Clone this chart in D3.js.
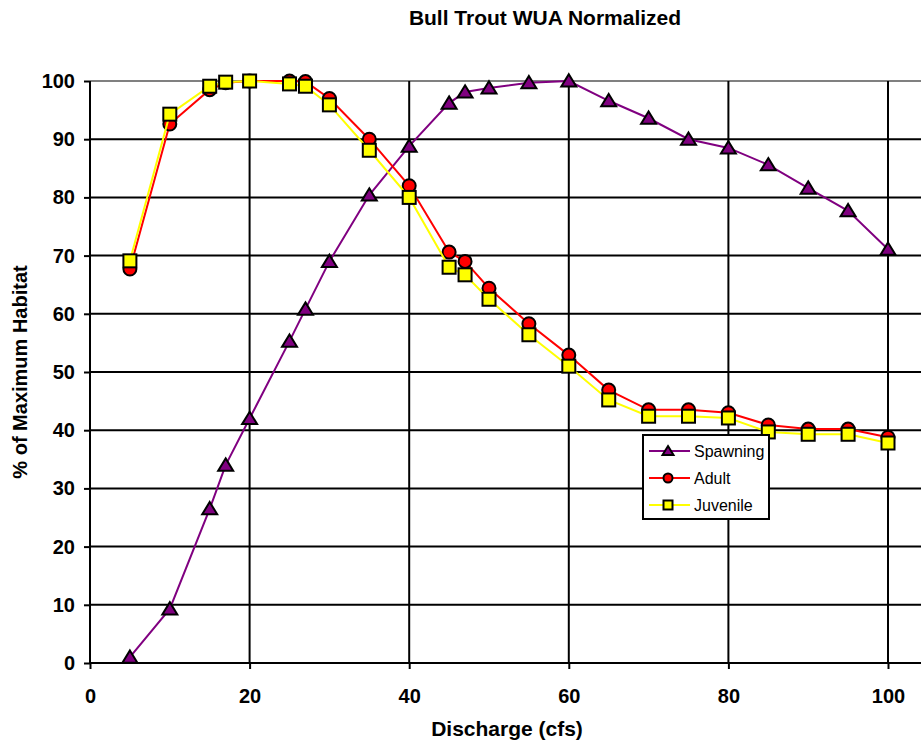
<!DOCTYPE html>
<html>
<head>
<meta charset="utf-8">
<script src="https://d3js.org/d3.v7.min.js"></script>
<style>
    body { margin: 0; background: #fff; }
    text { font-family: Arial, "Liberation Sans", sans-serif; }
    .bold { font-weight: bold; }
</style>
</head>
<body>
<div id="chart"></div>
<script>
    // discharge values (cfs)
    var discharge = [5, 10, 15, 17, 20, 25, 27, 30, 35, 40, 45, 47, 50, 55, 60, 65, 70, 75, 80, 85, 90, 95, 100];
    var spawning = [1.0, 9.3, 26.5, 34, 42, 55.3, 60.8, 69, 80.4, 88.8, 96.2, 98.1, 98.8, 99.7, 100, 96.6, 93.6, 90, 88.5, 85.6, 81.6, 77.7, 71.1];
    var adult = [67.7, 92.6, 98.5, 99.7, 100, 100, 99.9, 97, 90, 82, 70.6, 69, 64.4, 58.3, 52.9, 46.9, 43.5, 43.5, 43, 40.9, 40.2, 40.2, 38.8];
    var juvenile = [69.1, 94.3, 99.1, 99.8, 100, 99.5, 99.1, 95.9, 88.1, 80, 68, 66.7, 62.5, 56.4, 51, 45.2, 42.4, 42.4, 42.1, 39.7, 39.3, 39.3, 37.8];
    var seriesNames = ["Spawning", "Adult", "Juvenile"];
    var xTicks = [0, 20, 40, 60, 80, 100];
    var yTicks = [0, 10, 20, 30, 40, 50, 60, 70, 80, 90, 100];

    var W = 921, H = 742;
    var svg = d3.select("#chart").append("svg")
        .attr("width", W)
        .attr("height", H);

    var x = d3.scaleLinear().domain([0, 100]).range([90, 888]);
    var y = d3.scaleLinear().domain([0, 100]).range([663, 81]);

    // horizontal grid
    svg.append("g").selectAll("line")
        .data(yTicks.filter(function (d) { return d > 0; }))
        .enter().append("line")
        .attr("x1", x(0)).attr("x2", W)
        .attr("y1", function (d) { return y(d); })
        .attr("y2", function (d) { return y(d); })
        .attr("stroke", function (d) { return d == 100 ? "#808080" : "#000"; })
        .attr("stroke-width", 2);

    // vertical grid
    svg.append("g").selectAll("line")
        .data(xTicks.filter(function (d) { return d > 0; }))
        .enter().append("line")
        .attr("x1", function (d) { return x(d); })
        .attr("x2", function (d) { return x(d); })
        .attr("y1", y(100)).attr("y2", y(0))
        .attr("stroke", "#000")
        .attr("stroke-width", 2);

    // axes
    var xAxis = svg.append("g")
        .attr("transform", "translate(0," + y(0) + ")")
        .call(d3.axisBottom(x).tickValues(xTicks).tickSize(6).tickPadding(20));
    xAxis.select(".domain").remove();
    xAxis.append("line").attr("x1", x(0)).attr("x2", W).attr("stroke", "#000").attr("stroke-width", 2);

    var yAxis = svg.append("g")
        .attr("transform", "translate(" + x(0) + ",0)")
        .call(d3.axisLeft(y).tickValues(yTicks).tickSize(6).tickPadding(9));
    yAxis.select(".domain").remove();
    yAxis.append("line").attr("y1", y(100)).attr("y2", y(0)).attr("stroke", "#000").attr("stroke-width", 2);

    svg.selectAll(".tick line").attr("stroke", "#000").attr("stroke-width", 2);
    svg.selectAll(".tick text")
        .attr("class", "bold")
        .style("font-size", "20px")
        .attr("fill", "#000")
        .style("font-family", "Arial, 'Liberation Sans', sans-serif");

    // titles
    svg.append("text").attr("class", "bold")
        .attr("x", 545).attr("y", 25)
        .attr("text-anchor", "middle")
        .style("font-size", "21px")
        .text("Bull Trout WUA Normalized");

    svg.append("text").attr("class", "bold")
        .attr("x", 507).attr("y", 736)
        .attr("text-anchor", "middle")
        .style("font-size", "21px")
        .text("Discharge (cfs)");

    svg.append("text").attr("class", "bold")
        .attr("transform", "translate(27,372) rotate(-90)")
        .attr("text-anchor", "middle")
        .style("font-size", "20px")
        .text("% of Maximum Habitat");

    // series
    var series = [
        { name: seriesNames[0], values: spawning, color: "#800080", shape: "triangle" },
        { name: seriesNames[1], values: adult, color: "#ff0000", shape: "circle" },
        { name: seriesNames[2], values: juvenile, color: "#ffff00", shape: "square" }
    ];

    var line = d3.line()
        .x(function (d) { return x(d[0]); })
        .y(function (d) { return y(d[1]); });

    function marker(g, shape, color, s) {
        var m;
        if (shape == "triangle") {
            m = g.append("path").attr("d", "M0," + (-s * 0.45) + "L" + (s * 0.5) + "," + (s * 0.37) + "L" + (-s * 0.5) + "," + (s * 0.37) + "Z");
        } else if (shape == "circle") {
            m = g.append("circle").attr("r", s / 2);
        } else {
            m = g.append("rect").attr("x", -s / 2).attr("y", -s / 2).attr("width", s).attr("height", s);
        }
        m.attr("fill", color).attr("stroke", "#000").attr("stroke-width", 2);
    }

    series.forEach(function (s) {
        var pts = discharge.map(function (d, i) { return [d, s.values[i]]; });
        var g = svg.append("g");
        g.append("path")
            .datum(pts)
            .attr("fill", "none")
            .attr("stroke", s.color)
            .attr("stroke-width", 2)
            .attr("d", line);
        pts.forEach(function (p) {
            var mg = g.append("g").attr("transform", "translate(" + x(p[0]) + "," + y(p[1]) + ")");
            marker(mg, s.shape, s.color, s.shape == "triangle" ? 15 : 13);
        });
    });

    // legend
    var legend = svg.append("g").attr("transform", "translate(643,435)");
    legend.append("rect")
        .attr("width", 126).attr("height", 84)
        .attr("fill", "#fff").attr("stroke", "#000").attr("stroke-width", 2);
    series.forEach(function (s, i) {
        var ly = 16 + i * 27;
        legend.append("line")
            .attr("x1", 6).attr("x2", 47)
            .attr("y1", ly).attr("y2", ly)
            .attr("stroke", s.color).attr("stroke-width", 2);
        var mg = legend.append("g").attr("transform", "translate(25," + ly + ")");
        marker(mg, s.shape, s.color, s.shape == "triangle" ? 11 : 9);
        legend.append("text")
            .attr("x", 51).attr("y", ly + 6)
            .style("font-size", "16px")
            .text(s.name);
    });
</script>
</body>
</html>
